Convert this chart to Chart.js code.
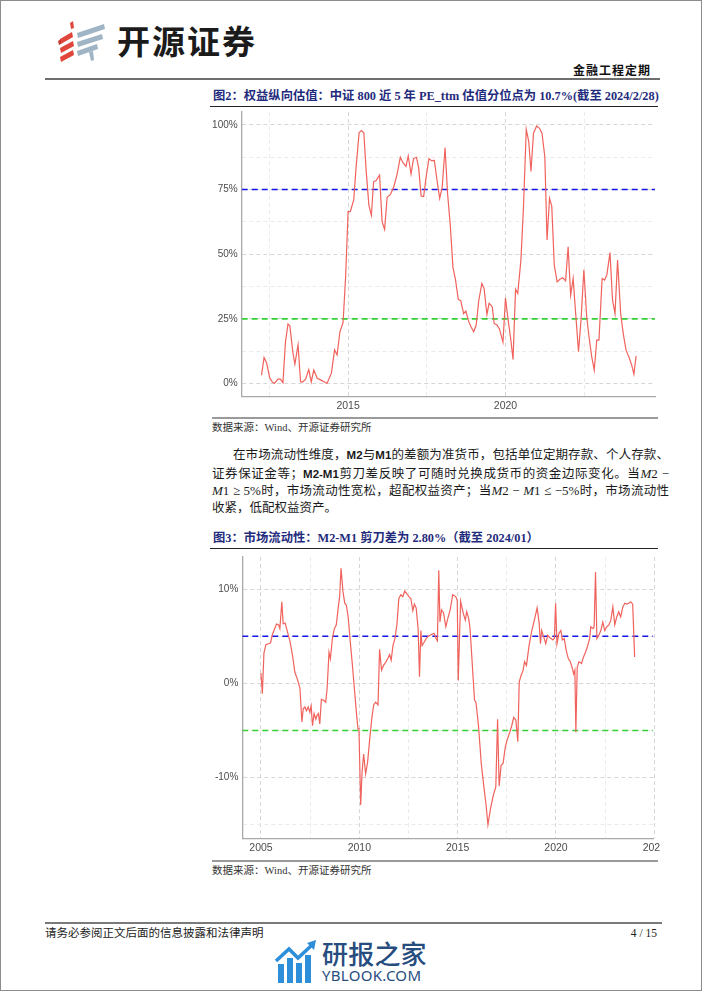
<!DOCTYPE html>
<html lang="zh-CN">
<head>
<meta charset="utf-8">
<title>金融工程定期 4/15</title>
<script src="https://cdn.jsdelivr.net/npm/chart.js@4.4.1/dist/chart.umd.min.js"></script>
<style>
  html, body { margin: 0; padding: 0; background: #fff; overflow: hidden; }
  #page { position: relative; width: 702px; height: 991px; font-family: "Liberation Serif", "Noto Sans CJK SC", serif; color: #111; }
  #frame { position: absolute; left: 0; top: 0; width: 702px; height: 991px; box-sizing: border-box; border: 1px solid #8c8c8c; pointer-events: none; }
  .a { position: absolute; white-space: nowrap; }
  .rule { position: absolute; }
  canvas { display: block; }
  .brand { left: 117px; top: 22px; font: 700 33px/36px "Noto Sans CJK SC", sans-serif; letter-spacing: 2px; color: #1b1b1b; }
  .series { right: 51px; top: 63px; font: 700 12px/16px "Liberation Serif", "Noto Sans CJK SC"; letter-spacing: 1px; color: #111; }
  .fig-title { left: 213px; font: 700 12.3px/16px "Liberation Serif", "Noto Sans CJK SC"; color: #1f2b7c; }
  .src { left: 212px; font: 10.5px/14px "Liberation Serif", "Noto Sans CJK SC"; color: #333; }
  .para { position: absolute; left: 212px; top: 447px; width: 457px; font: 12.5px/17.5px "Liberation Serif", "Noto Sans CJK SC"; color: #1a1a1a; }
  .para div { text-align: justify; text-align-last: justify; height: 17.5px; }
  .para div.last { text-align-last: left; }
  .para .ind { padding-left: 21px; }
  .m { font-family: "Liberation Serif"; font-size: 13px; }
  .b { font-family: "Liberation Sans"; font-weight: 700; font-size: 11.5px; }
  .foot { font: 11.5px/14px "Liberation Serif", "Noto Sans CJK SC"; color: #222; }
  .wm1 { left: 322px; top: 938px; font: 500 26px/30px "Noto Sans CJK SC", sans-serif; color: #274d7f; letter-spacing: 0.2px; }
  .wm2 { left: 322px; top: 966px; font: 15px/18px "Noto Sans", sans-serif; color: #274d7f; letter-spacing: 0.3px; }
</style>
</head>
<body>
<div id="page">
  <svg class="a" style="left:56px;top:20px" width="54" height="44" viewBox="0 0 54 44">
    <polygon points="14,3 17,1 18,8 15,9" fill="#e0463c"/>
    <polygon points="4,19 16,12 17,17 5,24" fill="#e0463c"/>
    <polygon points="4,28 17,21 18,26 5,33" fill="#e0463c"/>
    <polygon points="4,37 17,30 18,35 5,42" fill="#e0463c"/>
    <polygon points="2,21 5,19 5,24 3,25" fill="#c73a31"/>
    <polygon points="21,13 48,4 49,9 22,18" fill="#9fb4c4"/>
    <polygon points="21,22 46,14 47,19 22,27" fill="#9fb4c4"/>
    <polygon points="21,31 41,24 42,29 22,36" fill="#9fb4c4"/>
    <polygon points="33,32 37,31 38,40 35,41" fill="#9fb4c4"/>
  </svg>
  <div class="a brand">开源证券</div>
  <div class="a series">金融工程定期</div>
  <div class="rule" style="left:45px;top:78px;width:615px;height:2px;background:#6e6e6e"></div>

  <div class="a fig-title" style="top:88px">图2：权益纵向估值：中证 800 近 5 年 PE_ttm 估值分位点为 10.7%(截至 2024/2/28)</div>
  <div class="rule" style="left:210px;top:106px;width:448px;height:1px;background:#222"></div>
  <div class="a" style="left:200px;top:102px"><canvas id="chart-pe" width="458" height="313"></canvas></div>
  <div class="rule" style="left:212px;top:417px;width:446px;height:1.5px;background:#9a9a9a"></div>
  <div class="a src" style="top:421px">数据来源：Wind、开源证券研究所</div>

  <div class="para">
    <div class="ind">在市场流动性维度，<span class="b">M2</span>与<span class="b">M1</span>的差额为准货币，包括单位定期存款、个人存款、</div>
    <div>证券保证金等；<span class="b">M2-M1</span>剪刀差反映了可随时兑换成货币的资金边际变化。当<span class="m"><i>M</i>2 −</span></div>
    <div><span class="m"><i>M</i>1 ≥ 5%</span>时，市场流动性宽松，超配权益资产；当<span class="m"><i>M</i>2 − <i>M</i>1 ≤ −5%</span>时，市场流动性</div>
    <div class="last">收紧，低配权益资产。</div>
  </div>

  <div class="a fig-title" style="top:530px">图3：市场流动性：M2-M1 剪刀差为 2.80%（截至 2024/01）</div>
  <div class="rule" style="left:210px;top:548px;width:448px;height:1px;background:#222"></div>
  <div class="a" style="left:200px;top:547px;width:460px;height:310px;overflow:hidden"><canvas id="chart-m2" width="469" height="310"></canvas></div>
  <div class="rule" style="left:212px;top:860px;width:446px;height:1.5px;background:#9a9a9a"></div>
  <div class="a src" style="top:864px">数据来源：Wind、开源证券研究所</div>

  <div class="rule" style="left:45px;top:922px;width:617px;height:2px;background:#7a7a7a"></div>
  <div class="a foot" style="left:45px;top:926px">请务必参阅正文后面的信息披露和法律声明</div>
  <div class="a foot" style="right:45px;top:926px">4 / 15</div>

  <svg class="a" style="left:275px;top:940px" width="44" height="46" viewBox="0 0 44 46">
    <rect x="3" y="24" width="6" height="19" fill="#2d8ed9"/>
    <rect x="12" y="18" width="6" height="25" fill="#2d8ed9"/>
    <rect x="21" y="23" width="6" height="20" fill="#2d8ed9"/>
    <rect x="30" y="15" width="6" height="28" fill="#2d8ed9"/>
    <polyline points="1,21 14,9 23,18 37,5" fill="none" stroke="#2d8ed9" stroke-width="3.5"/>
    <polygon points="32,3 41,0 39,10" fill="#2d8ed9"/>
  </svg>
  <div class="a wm1">研报之家</div>
  <div class="a wm2">YBLOOK.COM</div>
  <div id="frame"></div>
</div>

<script>
/* ── Data: 中证800 PE_ttm 近5年分位点 (%) ── */
const peYears = [
  2012.25, 2012.33, 2012.41, 2012.51, 2012.59, 2012.66, 2012.77, 2012.85, 2012.93,
  2013.01, 2013.09, 2013.15, 2013.25, 2013.31, 2013.41, 2013.49, 2013.56, 2013.65, 2013.75, 2013.83, 2013.91,
  2014.02, 2014.14, 2014.25, 2014.33, 2014.47, 2014.57, 2014.65, 2014.74, 2014.84, 2014.92,
  2015.00, 2015.07, 2015.18, 2015.25, 2015.35, 2015.42, 2015.50, 2015.57, 2015.66, 2015.74, 2015.81, 2015.89,
  2016.00, 2016.08, 2016.16, 2016.24, 2016.34, 2016.45, 2016.55, 2016.66, 2016.74, 2016.84, 2016.91,
  2017.00, 2017.08, 2017.17, 2017.24, 2017.32, 2017.40, 2017.48, 2017.57, 2017.65, 2017.74, 2017.82, 2017.91, 2017.99,
  2018.08, 2018.16, 2018.25, 2018.33, 2018.41, 2018.50, 2018.58, 2018.67, 2018.74, 2018.83, 2018.90, 2018.99,
  2019.07, 2019.15, 2019.25, 2019.32, 2019.41, 2019.48, 2019.58, 2019.64, 2019.73, 2019.81, 2019.92,
  2020.00, 2020.08, 2020.17, 2020.24, 2020.32, 2020.39, 2020.49, 2020.57, 2020.66, 2020.74, 2020.81, 2020.89, 2020.99,
  2021.08, 2021.16, 2021.25, 2021.32, 2021.40, 2021.47, 2021.55, 2021.64, 2021.73, 2021.82, 2021.91, 2021.99,
  2022.07, 2022.15, 2022.23, 2022.32, 2022.40, 2022.49, 2022.58, 2022.66, 2022.74, 2022.82, 2022.90, 2022.97,
  2023.07, 2023.15, 2023.22, 2023.32, 2023.40, 2023.48, 2023.56, 2023.66, 2023.74, 2023.83, 2023.92,
  2024.01, 2024.08, 2024.15
];
const pePct = [
  3.2, 10, 8, 2.2, 0.6, 0, 1.7, 1.7, 0.3,
  16, 23, 22.3, 11.6, 7.5, 15, 0.6, 0.6, 1.7, 5.4, 0.6, 5.2,
  2, 1.3, 0.6, 0, 4, 13, 11, 20, 23.5, 41,
  66.5, 66.5, 71, 83, 97, 97.8, 97, 83, 69, 65, 78, 78.5,
  80.6, 62.6, 59.6, 72, 73, 76, 80.6, 87.5, 85.5, 84, 88,
  81, 87, 87.5, 83.6, 72.5, 72.3, 80, 87, 86.2, 86.3, 79, 71.6, 76,
  91.2, 73.5, 60.6, 45, 40.3, 32.5, 32, 27, 28, 24, 22, 20,
  22.6, 32, 38.7, 36.8, 26.7, 31, 29.7, 23.2, 22.6, 21, 16,
  33, 25, 16.8, 9.3, 36.4, 34.8, 47.7, 67.7, 98.3, 93.5, 82, 96.8, 99.6,
  98.7, 96.8, 87.7, 55.5, 71.6, 68.6, 45.8, 39.3, 40.3, 40.9, 39.7, 52.9,
  34.2, 40.6, 27, 12.3, 24.5, 44, 25.8, 17.4, 10.3, 5.2, 16.8, 16.8,
  40.6, 40, 42, 50.6, 32.3, 27, 47.7, 27, 19.4, 12.9, 10.3,
  7.1, 3.6, 10.7
];
const peBands = [75, 25];
const peXTicks = [2012.5, 2015, 2017.5, 2020, 2022.5];
const peXLabels = [2015, 2020];
const peYTicks = [0, 12.5, 25, 37.5, 50, 62.5, 75, 87.5, 100];
const peYLabels = [0, 25, 50, 75, 100];

/* ── Data: M2-M1 剪刀差 (%) ── */
const m2Years = [
  2005.00, 2005.07, 2005.15, 2005.25, 2005.37, 2005.49, 2005.57, 2005.68, 2005.79, 2005.90, 2005.96,
  2006.06, 2006.13, 2006.23, 2006.33, 2006.47, 2006.60, 2006.72, 2006.84, 2006.98,
  2007.08, 2007.15, 2007.23, 2007.31, 2007.40, 2007.48, 2007.55, 2007.62, 2007.70, 2007.79, 2007.85, 2007.92, 2007.99,
  2008.07, 2008.19, 2008.29, 2008.36, 2008.46, 2008.53, 2008.63, 2008.73, 2008.83, 2008.92,
  2009.00, 2009.07, 2009.17, 2009.26, 2009.34, 2009.44, 2009.54, 2009.65, 2009.75, 2009.85, 2009.93, 2009.98,
  2010.07, 2010.14, 2010.22, 2010.32, 2010.42, 2010.52, 2010.63, 2010.73, 2010.83, 2010.95,
  2011.03, 2011.13, 2011.23, 2011.33, 2011.44, 2011.54, 2011.62, 2011.71, 2011.81, 2011.91,
  2012.01, 2012.11, 2012.21, 2012.31, 2012.42, 2012.52, 2012.62, 2012.72, 2012.80, 2012.89, 2012.99,
  2013.06, 2013.13, 2013.19, 2013.28, 2013.40, 2013.50, 2013.60, 2013.70, 2013.80, 2013.90, 2013.97,
  2014.04, 2014.10, 2014.18, 2014.28, 2014.40, 2014.50, 2014.62, 2014.75, 2014.90, 2014.98,
  2015.03, 2015.15, 2015.29, 2015.39, 2015.46, 2015.56, 2015.63, 2015.70, 2015.78, 2015.86, 2015.93,
  2016.06, 2016.20, 2016.33, 2016.44, 2016.54, 2016.67, 2016.81, 2016.94,
  2017.03, 2017.11, 2017.21, 2017.31, 2017.42, 2017.53, 2017.65, 2017.75, 2017.85, 2017.96,
  2018.06, 2018.13, 2018.23, 2018.33, 2018.40, 2018.50, 2018.63, 2018.77, 2018.90,
  2019.04, 2019.14, 2019.21, 2019.27, 2019.38, 2019.48, 2019.58, 2019.71, 2019.85, 2019.92, 2019.98,
  2020.05, 2020.15, 2020.25, 2020.32, 2020.42, 2020.52, 2020.63, 2020.73, 2020.83, 2020.90, 2020.96,
  2021.01, 2021.08, 2021.17, 2021.30, 2021.40, 2021.50, 2021.60, 2021.71, 2021.77, 2021.88, 2021.94,
  2022.01, 2022.08, 2022.18, 2022.28, 2022.38, 2022.48, 2022.58, 2022.69, 2022.79, 2022.89, 2022.99,
  2023.09, 2023.19, 2023.29, 2023.40, 2023.50, 2023.60, 2023.70, 2023.80, 2023.90,
  2024.00
];
const m2Spread = [
  1.1, -1.1, 3.2, 4.1, 4.2, 4.3, 5.1, 5.7, 6.3, 6.2, 5.8,
  8.65, 6.3, 6.4, 5.6, 4.5, 3.0, 1.2, 0.5, -0.5,
  -4.1, -2.7, -2.5, -2.9, -2.5, -3.05, -2.4, -4.5, -3.2, -3.8, -3.4, -3.2, -4.3,
  -1.7, -1.8, -2.0, -0.6, 3.3, 2.6, 4.75, 5.8, 6.2, 7.9,
  9.2, 12.2, 9.7, 8.5, 8.3, 6.9, 4.4, 1.9, -0.6, -3.05, -4.8, -4.8,
  -12.9, -9.4, -7.5, -9.6, -8.4, -6.1, -3.8, -2.3, -2.0, -2.3,
  3.6, 1.4, 1.9, 2.2, 2.6, 3.05, 2.45, 4.0, 4.75, 6.2,
  9.0, 9.4, 9.2, 9.8, 9.5, 9.2, 9.0, 7.7, 8.4, 8.0, 5.8,
  0.7, 5.6, 4.0, 4.3, 4.75, 5.0, 5.1, 5.2, 5.3, 4.75, 4.5,
  12.0, 6.5, 7.8, 7.5, 6.0, 6.9, 7.8, 9.4, 9.2, 8.8,
  0.3, 8.7, 7.4, 6.7, 7.6, 6.9, 5.8, 3.5, 0.8, -1.8, -2.0,
  -4.5, -8.5, -10.9, -12.8, -15.0, -13.3, -11.9, -11.0,
  -3.8, -10.9, -8.7, -8.5, -6.8, -5.9, -5.2, -4.5, -3.6, -3.9,
  -6.2, 0.15, 0.85, 1.4, 2.3, 1.9, 4.0, 5.6, 6.7,
  8.0, 6.5, 4.2, 5.6, 4.9, 4.2, 5.1, 4.8, 4.6, 4.8, 8.5,
  4.2, 5.3, 5.6, 4.6, 4.75, 3.5, 2.6, 2.3, 1.6, 1.0, 1.4,
  -5.2, 1.7, 2.3, 2.1, 2.8, 3.3, 3.9, 4.75, 6.0, 5.8, 6.0,
  11.8, 4.75, 5.1, 5.6, 6.5, 5.6, 6.0, 6.2, 6.7, 8.1, 6.2,
  7.05, 7.6, 7.05, 8.1, 8.5, 8.4, 8.5, 8.65, 8.4,
  2.8
];
const m2Bands = [5, -5];
const m2XTicks = [2005, 2007.5, 2010, 2012.5, 2015, 2017.5, 2020, 2022.5, 2025];
const m2XLabels = [2005, 2010, 2015, 2020, 2025];
const m2YTicks = [-15, -10, -5, 0, 5, 10];
const m2YLabels = [-10, 0, 10];

/* ── Styles ── */
const LINE_COLOR = '#f0625c';
const BAND_COLORS = ['#1616e8', '#35d035'];
const GRID_MAJOR = '#d6d6d6', GRID_MINOR = '#ebebeb';
const AXIS_COLOR = '#a9a9a9', TICK_COLOR = '#4d4d4d';

/* ── Chart builder ── */
function lineChart(id, xs, ys, bands, o) {
  const pts = xs.map((x, i) => ({ x, y: ys[i] }));
  const bandSets = bands.map((b, i) => ({
    data: [{ x: o.xMin, y: b }, { x: o.xMax, y: b }],
    borderColor: BAND_COLORS[i], borderWidth: 1.6, borderDash: [6, 4], pointRadius: 0
  }));
  const gridFor = labels => c => (c.tick && labels.includes(c.tick.value)) ? GRID_MAJOR : GRID_MINOR;
  new Chart(document.getElementById(id), {
    type: 'line',
    data: { datasets: [{ data: pts, borderColor: LINE_COLOR, borderWidth: 1.2, pointRadius: 0, tension: 0 }, ...bandSets] },
    options: {
      responsive: false, animation: false, events: [],
      layout: { padding: { left: 0, right: o.padRight, top: 0, bottom: 0 } },
      plugins: { legend: { display: false }, tooltip: { enabled: false } },
      scales: {
        x: {
          type: 'linear', min: o.xMin, max: o.xMax,
          afterBuildTicks: s => { s.ticks = o.xTicks.map(v => ({ value: v })); },
          ticks: { autoSkip: false, maxRotation: 0, padding: 3, color: TICK_COLOR,
                   font: { family: 'Liberation Sans', size: 10.5 },
                   callback: v => o.xLabels.includes(v) ? String(v) : '' },
          grid: { color: gridFor(o.xLabels), lineWidth: 1, drawTicks: false },
          border: { color: AXIS_COLOR, width: 1.3, dash: [4, 3] }
        },
        y: {
          min: o.yMin, max: o.yMax,
          afterBuildTicks: s => { s.ticks = o.yTicks.map(v => ({ value: v })); },
          afterFit: s => { s.width = o.yWidth; },
          ticks: { autoSkip: false, padding: 4, color: TICK_COLOR,
                   font: { family: 'Liberation Sans', size: 10 },
                   callback: v => o.yLabels.includes(v) ? v + '%' : '' },
          grid: { color: gridFor(o.yLabels), lineWidth: 1, drawTicks: false },
          border: { color: AXIS_COLOR, width: 1.3, dash: [4, 3] }
        }
      }
    }
  });
}

/* ── Init ── */
lineChart('chart-pe', peYears, pePct, peBands, {
  xMin: 2011.62, xMax: 2024.75, yMin: -5, yMax: 105,
  xTicks: peXTicks, xLabels: peXLabels, yTicks: peYTicks, yLabels: peYLabels,
  yWidth: 41.7, padRight: 3
});
lineChart('chart-m2', m2Years, m2Spread, m2Bands, {
  xMin: 2004.05, xMax: 2024.95, yMin: -16.45, yMax: 13.4,
  xTicks: m2XTicks, xLabels: m2XLabels, yTicks: m2YTicks, yLabels: m2YLabels,
  yWidth: 42.3, padRight: 0
});
</script>
</body>
</html>
